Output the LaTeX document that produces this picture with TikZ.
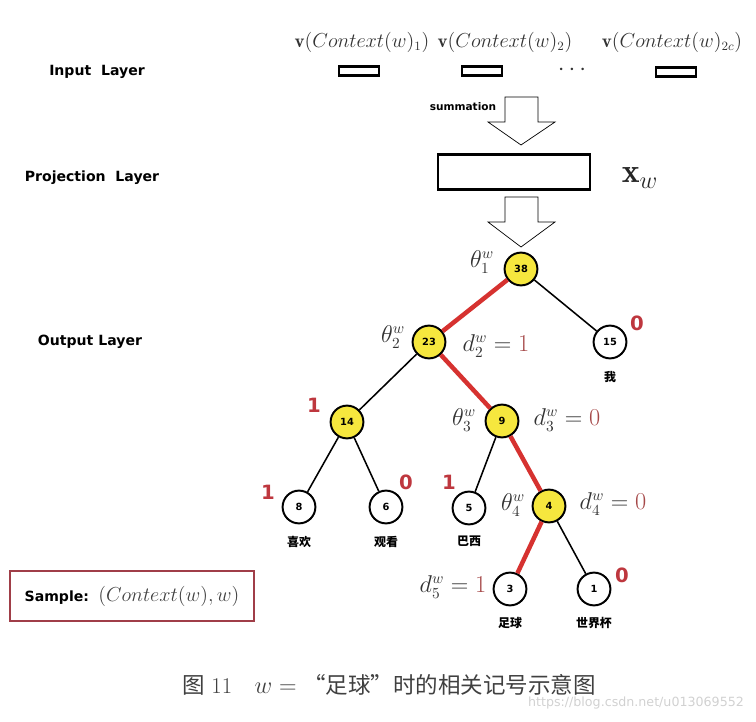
\documentclass[tikz,border=0pt]{standalone}
\usepackage{fontspec}
\newfontfamily\labfont{DejaVu Sans}
\newfontfamily\cjk{Noto Sans CJK SC}
\usetikzlibrary{positioning}
\definecolor{nodeyellow}{RGB}{246,231,62}
\definecolor{pathred}{RGB}{214,50,48}
\definecolor{bitred}{RGB}{190,55,62}
\definecolor{dred}{RGB}{165,72,72}
\definecolor{boxred}{RGB}{160,62,72}
\begin{document}
\begin{tikzpicture}[x=0.025cm, y=-0.025cm,
      inner/.style={circle,draw,line width=1.4pt,fill=nodeyellow,minimum size=0.82cm,inner sep=0pt,font=\labfont\bfseries\fontsize{7}{8}\selectfont},
      leaf/.style={inner,fill=white},
      hot/.style={line width=3.2pt,draw=pathred},
      cold/.style={line width=1.1pt},
      bit/.style={font=\labfont\bfseries\fontsize{14}{14}\selectfont,text=bitred},
      lab/.style={font=\fontsize{16}{18}\selectfont,text=black!80,inner sep=0pt},
      top/.style={font=\fontsize{13.5}{15}\selectfont,text=black!80},
      layer/.style={font=\labfont\bfseries\fontsize{10}{12}\selectfont},
      word/.style={font=\cjk\bfseries\fontsize{8.5}{9}\selectfont},
      vec/.style={draw,line width=1.8pt,minimum width=1cm,minimum height=0.22cm,inner sep=0pt},
      hollow/.style={draw,line width=0.5pt,fill=white}
    ]
      \useasboundingbox (0,0) rectangle (756,722);

      % layers
      \node[layer] (inl) at (97,72) {Input\ \ Layer};
      \node[layer] (prl) at (92,178) {Projection\ \ Layer};
      \node[layer] (outl) at (90,342) {Output Layer};

      % input vectors
      \node[top] (c1) at (362,42) {$\mathbf{v}(Context(w)_1)$};
      \node[top] (c2) at (505,42) {$\mathbf{v}(Context(w)_2)$};
      \node[top] (c3) at (672,42) {$\mathbf{v}(Context(w)_{2c})$};
      \node[vec] (v1) at (359,71) {};
      \node[vec] (v2) at (482,71) {};
      \node[vec] (v3) at (676,72) {};
      \node[font=\fontsize{18}{18}\selectfont,text=black!80] (dots) at (572,70) {$\cdots$};

      % summation + projection
      \foreach \t/\h in {97/48,197/50}
        \draw[hollow] (505,\t) -- (538,\t) -- (538,{\t+25}) -- (555,{\t+25}) -- (521,{\t+\h}) -- (488,{\t+25}) -- (505,{\t+25}) -- cycle;
      \node[font=\labfont\bfseries\fontsize{7.5}{8}\selectfont] (sum) at (463,107) {summation};
      \node[draw,line width=2pt,minimum width=3.8cm,minimum height=0.88cm] (proj) at (514,172) {};
      \node[font=\fontsize{24}{26}\selectfont,text=black!85] (xw) at (640,178) {$\mathbf{x}_w$};

      % huffman tree
      \node[inner] (n38) at (521,269) {38};
      \node[inner] (n23) at (429,342) {23};
      \node[leaf]  (n15) at (610,342) {15};
      \node[inner] (n14) at (347,422) {14};
      \node[inner] (n9)  at (502,421) {9};
      \node[leaf]  (n8)  at (299,507) {8};
      \node[leaf]  (n6)  at (386,507) {6};
      \node[leaf]  (n5)  at (469,508) {5};
      \node[inner] (n4)  at (549,506) {4};
      \node[leaf]  (n3)  at (510,589) {3};
      \node[leaf]  (n1)  at (594,589) {1};

      \draw[hot] (n38) -- (n23);
      \draw[hot] (n23) -- (n9);
      \draw[hot] (n9) -- (n4);
      \draw[hot] (n4) -- (n3);
      \draw[cold] (n38) -- (n15);
      \draw[cold] (n23) -- (n14);
      \draw[cold] (n14) -- (n8);
      \draw[cold] (n14) -- (n6);
      \draw[cold] (n9) -- (n5);
      \draw[cold] (n4) -- (n1);

      \node[word,below=0.17cm of n15] (w15) {我};
      \node[word,below=0.17cm of n8] (w8) {喜欢};
      \node[word,below=0.17cm of n6] (w6) {观看};
      \node[word,below=0.15cm of n5] (w5) {巴西};
      \node[word,below=0.15cm of n3] (w3) {足球};
      \node[word,below=0.15cm of n1] (w1) {世界杯};

      % codes
      \node[lab] (t1) at (482,262) {$\theta_1^w$};
      \node[lab] (t2) at (393,337) {$\theta_2^w$};
      \node[lab] (t3) at (464,420) {$\theta_3^w$};
      \node[lab] (t4) at (513,505) {$\theta_4^w$};
      \node[lab] (d2) at (496,346) {$d_2^w=\textcolor{dred}{1}$};
      \node[lab] (d3) at (567,420) {$d_3^w=\textcolor{dred}{0}$};
      \node[lab] (d4) at (613,504) {$d_4^w=\textcolor{dred}{0}$};
      \node[lab] (d5) at (453,587) {$d_5^w=\textcolor{dred}{1}$};

      \node[bit] (b15) at (637,323) {0};
      \node[bit] (b14) at (314,405) {1};
      \node[bit] (b8)  at (268,492) {1};
      \node[bit] (b6)  at (406,482) {0};
      \node[bit] (b5)  at (449,482) {1};
      \node[bit] (b1)  at (622,575) {0};

      % sample
      \node[draw=boxred,line width=2pt,minimum width=6.1cm,minimum height=1.25cm] (sample) at (132,596)
        {{\labfont\bfseries\fontsize{10}{12}\selectfont Sample:}\ \ {\fontsize{14.5}{16}\selectfont\color{black!75}$(Context(w),w)$}};

      \node[font=\fontsize{16}{18}\selectfont,text=black!75] (cap) at (389,685)
        {{\cjk 图}~11\quad $w=$ {\cjk “足球”时的相关记号示意图}};
      \node[font=\labfont\fontsize{9}{10}\selectfont,text=black!18] (wm) at (636,703) {https://blog.csdn.net/u013069552};
    \end{tikzpicture}
\end{document}
